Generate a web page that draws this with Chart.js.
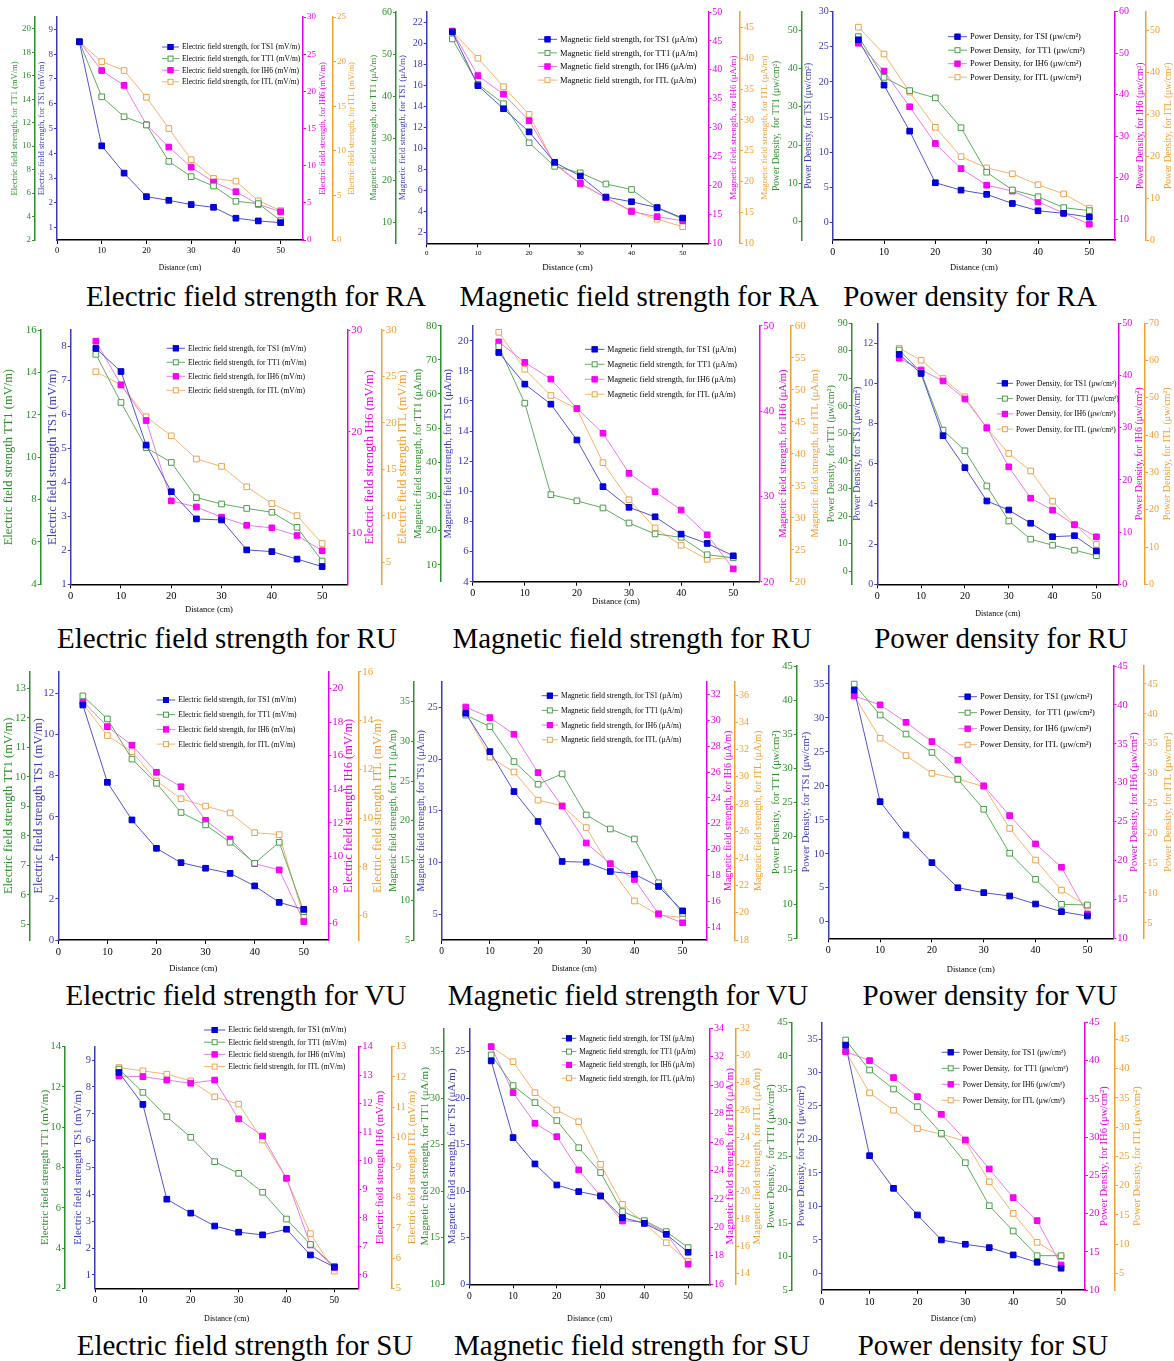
<!DOCTYPE html>
<html>
<head>
<meta charset="utf-8">
<title>Field strength and power density vs distance</title>
<script src="https://cdn.jsdelivr.net/npm/chart.js@4.4.1/dist/chart.umd.min.js"></script>
<style>
  body { margin: 0; width: 1174px; height: 1361px; position: relative; overflow: hidden; background: #fff; font-family: 'Liberation Serif', 'Times New Roman', serif; }
  canvas { position: absolute; }
  .cap { position: absolute; width: 500px; text-align: center; font-size: 29px; line-height: 32px; color: #000; white-space: nowrap; }
</style>
</head>
<body>
<script>
// distance from the source (cm)
const distance = [5, 10, 15, 20, 25, 30, 35, 40, 45, 50];
const xTicks = [0, 10, 20, 30, 40, 50];

// ---- RA ----
const efRA_TS1 = [8.5, 4.3, 3.2, 2.25, 2.1, 1.93, 1.82, 1.38, 1.27, 1.2];
const efRA_TT1 = [18.9, 14.2, 12.5, 11.8, 8.7, 7.4, 6.6, 5.3, 5.1, 3.65];
const efRA_IH6 = [26.7, 22.8, 20.8, 15.5, 12.5, 9.8, 7.8, 6.5, 4.8, 3.8];
const efRA_ITL = [22.2, 20.0, 19.0, 16.0, 12.5, 9.0, 6.9, 6.6, 4.4, 3.3];

const mfRA_TS1 = [21.1, 16.0, 13.8, 11.6, 8.7, 7.4, 5.4, 4.95, 4.4, 3.4];
const mfRA_TT1 = [53.6, 42.8, 38.2, 28.9, 23.3, 21.75, 19.1, 17.8, 13.4, 10.8];
const mfRA_IH6 = [46.7, 39.0, 35.8, 31.2, 23.8, 20.35, 17.9, 15.5, 14.6, 13.9];
const mfRA_ITL = [44.35, 40.0, 35.4, 30.9, 22.8, 19.6, 17.4, 15.3, 13.9, 12.7];

const pdRA_TS1 = [26.0, 19.55, 13.0, 5.65, 4.6, 4.0, 2.7, 1.66, 1.3, 0.76];
const pdRA_TT1 = [48.3, 37.65, 34.2, 32.3, 24.5, 12.9, 8.26, 6.5, 3.65, 2.87];
const pdRA_IH6 = [52.4, 45.7, 37.1, 28.25, 22.2, 18.2, 16.8, 14.2, 11.5, 8.8];
const pdRA_ITL = [50.8, 44.4, 35.3, 26.9, 19.9, 17.2, 15.8, 13.2, 11.0, 7.6];

// ---- RU ----
const efRU_TS1 = [7.93, 7.25, 5.09, 3.72, 2.92, 2.89, 2.01, 1.96, 1.74, 1.52];
const efRU_TT1 = [14.85, 12.58, 10.45, 9.75, 8.09, 7.79, 7.58, 7.4, 6.69, 5.1];
const efRU_IH6 = [28.9, 24.6, 21.1, 13.2, 12.6, 11.6, 10.8, 10.55, 9.8, 8.3];
const efRU_ITL = [25.5, 24.1, 20.65, 18.6, 16.1, 15.3, 13.1, 11.3, 10.0, 7.0];

const mfRU_TS1 = [19.22, 17.12, 15.79, 13.41, 10.31, 8.94, 8.31, 7.16, 6.54, 5.72];
const mfRU_TT1 = [73.9, 57.3, 30.5, 28.7, 26.6, 22.2, 19.0, 18.0, 12.9, 12.0];
const mfRU_IH6 = [48.1, 45.7, 43.75, 40.3, 37.4, 32.7, 30.55, 28.4, 25.5, 21.5];
const mfRU_ITL = [58.97, 53.2, 49.1, 47.0, 38.6, 32.8, 28.4, 25.7, 23.5, 23.8];

const pdRU_TS1 = [11.45, 10.5, 7.4, 5.81, 4.15, 3.7, 3.04, 2.37, 2.42, 1.66];
const pdRU_TT1 = [80.3, 72.2, 51.2, 43.7, 30.9, 18.2, 11.6, 9.4, 7.6, 5.6];
const pdRU_IH6 = [43.3, 41.06, 38.95, 35.5, 30.0, 22.5, 16.5, 14.2, 11.4, 9.1];
const pdRU_ITL = [63.3, 60.1, 55.2, 50.3, 41.8, 35.1, 30.4, 22.3, 16.1, 10.7];

// ---- VU ----
const efVU_TS1 = [11.43, 7.67, 5.84, 4.46, 3.76, 3.49, 3.24, 2.63, 1.83, 1.49];
const efVU_TT1 = [12.74, 11.96, 10.6, 9.78, 8.79, 8.37, 7.78, 7.07, 7.78, 5.43];
const efVU_IH6 = [19.24, 17.72, 16.62, 15.0, 14.14, 12.14, 11.02, 9.55, 9.18, 6.1];
const efVU_ITL = [14.69, 13.38, 12.72, 11.52, 10.79, 10.49, 10.21, 9.4, 9.32, 5.92];

const mfVU_TS1 = [24.45, 20.74, 16.87, 13.97, 10.1, 10.03, 9.13, 8.87, 7.68, 5.32];
const mfVU_TT1 = [33.3, 31.85, 27.45, 24.6, 25.9, 20.73, 18.97, 17.71, 12.2, 8.35];
const mfVU_IH6 = [31.04, 30.22, 28.93, 25.96, 23.37, 20.51, 18.91, 17.69, 15.03, 14.33];
const mfVU_ITL = [34.73, 31.45, 30.36, 28.29, 27.87, 26.27, 23.3, 20.87, 19.84, 19.65];

const pdVU_TS1 = [34.1, 17.67, 12.76, 8.69, 5.0, 4.27, 3.78, 2.6, 1.47, 0.83];
const pdVU_TT1 = [42.35, 37.8, 35.0, 32.3, 28.35, 23.95, 17.5, 13.66, 9.99, 9.9];
const pdVU_IH6 = [41.15, 40.0, 37.76, 35.28, 32.9, 29.6, 25.77, 22.13, 19.13, 13.13];
const pdVU_ITL = [42.99, 35.9, 32.99, 30.03, 29.08, 27.8, 20.8, 15.5, 10.47, 7.8];

// ---- SU ----
const efSU_TS1 = [8.54, 7.35, 3.82, 3.3, 2.82, 2.59, 2.49, 2.7, 1.74, 1.29];
const efSU_TT1 = [12.89, 11.73, 10.52, 9.5, 8.29, 7.71, 6.77, 5.44, 4.18, 3.08];
const efSU_IH6 = [12.97, 12.95, 12.83, 12.72, 12.83, 11.47, 10.87, 9.39, 7.05, 6.26];
const efSU_ITL = [12.31, 12.2, 12.09, 11.87, 11.34, 11.1, 9.91, 8.63, 6.81, 5.57];

const mfSU_TS1 = [24.0, 15.76, 12.93, 10.67, 9.96, 9.49, 7.16, 6.55, 5.37, 3.44];
const mfSU_TT1 = [34.64, 31.35, 29.52, 27.59, 24.68, 22.0, 17.81, 16.84, 15.66, 13.94];
const mfSU_IH6 = [32.71, 29.48, 27.32, 26.38, 24.04, 22.21, 20.45, 20.41, 19.59, 17.41];
const mfSU_ITL = [30.65, 29.55, 27.27, 26.0, 25.14, 22.01, 19.07, 17.67, 16.25, 14.9];

const pdSU_TS1 = [34.1, 17.57, 12.69, 8.71, 4.98, 4.33, 3.83, 2.74, 1.64, 0.75];
const pdSU_TT1 = [42.35, 37.87, 35.03, 32.39, 28.41, 24.02, 17.6, 13.81, 10.13, 10.13];
const pdSU_IH6 = [41.17, 39.99, 37.77, 35.28, 32.97, 29.62, 25.82, 22.07, 19.07, 13.27];
const pdSU_ITL = [42.94, 35.83, 32.87, 29.74, 28.78, 27.58, 20.64, 15.24, 10.29, 7.84];

// tick labels of the four y axes (TT1, TS1, IH6, ITL)
const efRA_tTT1 = [2, 4, 6, 8, 10, 12, 14, 16, 18, 20];
const efRA_tTS1 = [1, 2, 3, 4, 5, 6, 7, 8, 9];
const efRA_tIH6 = [0, 5, 10, 15, 20, 25, 30];
const efRA_tITL = [0, 5, 10, 15, 20, 25];
const mfRA_tTT1 = [10, 20, 30, 40, 50, 60];
const mfRA_tTS1 = [2, 4, 6, 8, 10, 12, 14, 16, 18, 20, 22];
const mfRA_tIH6 = [10, 15, 20, 25, 30, 35, 40, 45, 50];
const mfRA_tITL = [10, 15, 20, 25, 30, 35, 40, 45];
const pdRA_tTT1 = [0, 10, 20, 30, 40, 50];
const pdRA_tTS1 = [0, 5, 10, 15, 20, 25, 30];
const pdRA_tIH6 = [10, 20, 30, 40, 50, 60];
const pdRA_tITL = [0, 10, 20, 30, 40, 50];

const efRU_tTT1 = [4, 6, 8, 10, 12, 14, 16];
const efRU_tTS1 = [1, 2, 3, 4, 5, 6, 7, 8];
const efRU_tIH6 = [10, 20, 30];
const efRU_tITL = [5, 10, 15, 20, 25, 30];
const mfRU_tTT1 = [10, 20, 30, 40, 50, 60, 70, 80];
const mfRU_tTS1 = [4, 6, 8, 10, 12, 14, 16, 18, 20];
const mfRU_tIH6 = [20, 30, 40, 50];
const mfRU_tITL = [20, 25, 30, 35, 40, 45, 50, 55, 60];
const pdRU_tTT1 = [0, 10, 20, 30, 40, 50, 60, 70, 80, 90];
const pdRU_tTS1 = [0, 2, 4, 6, 8, 10, 12];
const pdRU_tIH6 = [0, 10, 20, 30, 40, 50];
const pdRU_tITL = [0, 10, 20, 30, 40, 50, 60, 70];

const efVU_tTT1 = [5, 6, 7, 8, 9, 10, 11, 12, 13];
const efVU_tTS1 = [0, 2, 4, 6, 8, 10, 12];
const efVU_tIH6 = [6, 8, 10, 12, 14, 16, 18, 20];
const efVU_tITL = [6, 8, 10, 12, 14, 16];
const mfVU_tTT1 = [5, 10, 15, 20, 25, 30, 35];
const mfVU_tTS1 = [5, 10, 15, 20, 25];
const mfVU_tIH6 = [14, 16, 18, 20, 22, 24, 26, 28, 30, 32];
const mfVU_tITL = [18, 20, 22, 24, 26, 28, 30, 32, 34, 36];
const pdVU_tTT1 = [5, 10, 15, 20, 25, 30, 35, 40, 45];
const pdVU_tTS1 = [0, 5, 10, 15, 20, 25, 30, 35];
const pdVU_tIH6 = [10, 15, 20, 25, 30, 35, 40, 45];
const pdVU_tITL = [5, 10, 15, 20, 25, 30, 35, 40, 45];

const efSU_tTT1 = [2, 4, 6, 8, 10, 12, 14];
const efSU_tTS1 = [1, 2, 3, 4, 5, 6, 7, 8, 9];
const efSU_tIH6 = [6, 7, 8, 9, 10, 11, 12, 13, 14];
const efSU_tITL = [5, 6, 7, 8, 9, 10, 11, 12, 13];
const mfSU_tTT1 = [10, 15, 20, 25, 30, 35];
const mfSU_tTS1 = [0, 5, 10, 15, 20, 25];
const mfSU_tIH6 = [16, 18, 20, 22, 24, 26, 28, 30, 32, 34];
const mfSU_tITL = [14, 16, 18, 20, 22, 24, 26, 28, 30, 32];
const pdSU_tTT1 = [5, 10, 15, 20, 25, 30, 35, 40, 45];
const pdSU_tTS1 = [0, 5, 10, 15, 20, 25, 30, 35];
const pdSU_tIH6 = [10, 15, 20, 25, 30, 35, 40, 45];
const pdSU_tITL = [5, 10, 15, 20, 25, 30, 35, 40, 45];

// axis titles (TT1, TS1, IH6, ITL) and legend labels (TS1, TT1, IH6, ITL)
const efTitlesFor = ['Electric field strength, for TT1 (mV/m)', 'Electric field strength, for TS1 (mV/m)', 'Electric field strength, for IH6 (mV/m)', 'Electric field strength, for ITL (mV/m)'];
const efTitles = ['Electric field strength TT1 (mV/m)', 'Electric field strength TS1 (mV/m)', 'Electric field strength IH6 (mV/m)', 'Electric field strength ITL (mV/m)'];
const efLegend = ['Electric field strength, for TS1 (mV/m)', 'Electric field strength, for TT1 (mV/m)', 'Electric field strength, for IH6 (mV/m)', 'Electric field strength, for ITL (mV/m)'];
const mfTitles = ['Magnetic field strength, for TT1 (μA/m)', 'Magnetic field strength, for TS1 (μA/m)', 'Magnetic field strength, for IH6 (μA/m)', 'Magnetic field strength, for ITL (μA/m)'];
const mfLegend = ['Magnetic field strength, for TS1 (μA/m)', 'Magnetic field strength, for TT1 (μA/m)', 'Magnetic field strength, for IH6 (μA/m)', 'Magnetic field strength, for ITL (μA/m)'];
const mfTitlesSI = ['Magnetic field strength, for TT1 (μA/m)', 'Magnetic field strength, for TSI (μA/m)', 'Magnetic field strength, for IH6 (μA/m)', 'Magnetic field strength, for ITL (μA/m)'];
const mfLegendSI = ['Magnetic field strength, for TSI (μA/m)', 'Magnetic field strength, for TT1 (μA/m)', 'Magnetic field strength, for IH6 (μA/m)', 'Magnetic field strength, for ITL (μA/m)'];
const pdTitlesSI = ['Power Density,  for TT1 (μw/cm²)', 'Power Density, for TSI (μw/cm²)', 'Power Density, for IH6 (μw/cm²)', 'Power Density, for ITL (μw/cm²)'];
const pdLegendSI = ['Power Density, for TSI (μw/cm²)', 'Power Density,  for TT1 (μw/cm²)', 'Power Density, for IH6 (μw/cm²)', 'Power Density, for ITL (μw/cm²)'];
const pdTitles = ['Power Density,  for TT1 (μw/cm²)', 'Power Density, for TS1 (μw/cm²)', 'Power Density, for IH6 (μw/cm²)', 'Power Density, for ITL (μw/cm²)'];
const pdLegend = ['Power Density, for TS1 (μw/cm²)', 'Power Density,  for TT1 (μw/cm²)', 'Power Density, for IH6 (μw/cm²)', 'Power Density, for ITL (μw/cm²)'];

const SERIF = "'Liberation Serif', 'Times New Roman', serif";
Chart.defaults.font.family = SERIF;

// axis colours: g = TT1, b = TS1, m = IH6, o = ITL
const AXIS = { g: '#2f8c2f', b: '#3b3bb5', m: '#e600e6', o: '#eea033' };
const SERIES = [
  { axis: 'b', line: '#5454cc', fill: '#0000ee', edge: '#0000bb' },
  { axis: 'g', line: '#63a963', fill: '#ffffff', edge: '#4c9a4c' },
  { axis: 'm', line: '#e77be7', fill: '#ff00ff', edge: '#ee00ee' },
  { axis: 'o', line: '#f2b570', fill: '#ffffff', edge: '#eaa24e' }
];

// page layout of each panel (pixel positions measured on the reference)
const panels = [
  { caption: 'Electric field strength for RA', capX: 256, capY: 296,
    ax: { g: 35, b: 57, m: 303, o: 333 }, tx: { g: 15, b: 41.7, m: 322.7, o: 351.7 },
    top: 17, bot: 240, xTitleY: 268,
    rng: { g: [2, 21], b: [0.5, 9.5], m: [0, 30], o: [0, 25] },
    fs: { tick: 9, title: 8.5, leg: 7.5, xTick: 8.5, xTitle: 7.5 },
    leg: { x: 162, tx: 182, y: 47, dy: 11.6 },
    data: [efRA_TS1, efRA_TT1, efRA_IH6, efRA_ITL],
    ticks: { g: efRA_tTT1, b: efRA_tTS1, m: efRA_tIH6, o: efRA_tITL },
    titles: efTitlesFor, labels: efLegend },
  { caption: 'Magnetic field strength for RA', capX: 639, capY: 296,
    ax: { g: 396, b: 426.7, m: 708.3, o: 740 }, tx: { g: 373.3, b: 402.7, m: 733.3, o: 765 },
    top: 12, bot: 243.3, xTitleY: 268,
    rng: { g: [5, 60], b: [1, 23], m: [10, 50], o: [10, 47.5] },
    fs: { tick: 10, title: 9, leg: 8.5, xTick: 7, xTitle: 9 },
    leg: { x: 538, tx: 560, y: 39.3, dy: 13.6 },
    data: [mfRA_TS1, mfRA_TT1, mfRA_IH6, mfRA_ITL],
    ticks: { g: mfRA_tTT1, b: mfRA_tTS1, m: mfRA_tIH6, o: mfRA_tITL },
    titles: mfTitles, labels: mfLegend },
  { caption: 'Power density for RA', capX: 970, capY: 296,
    ax: { g: 801.7, b: 832.7, m: 1115, o: 1146 }, tx: { g: 776.7, b: 808, m: 1140, o: 1168.3 },
    top: 11.7, bot: 240, xTitleY: 268,
    rng: { g: [-4.8, 54.8], b: [-2.5, 30], m: [5, 60], o: [0, 54.5] },
    fs: { tick: 10, title: 9.5, leg: 8.4, xTick: 10, xTitle: 8.5 },
    leg: { x: 948, tx: 970, y: 36.7, dy: 13.5 },
    data: [pdRA_TS1, pdRA_TT1, pdRA_IH6, pdRA_ITL],
    ticks: { g: pdRA_tTT1, b: pdRA_tTS1, m: pdRA_tIH6, o: pdRA_tITL },
    titles: pdTitlesSI, labels: pdLegendSI },

  { caption: 'Electric field strength for RU', capX: 227, capY: 638,
    ax: { g: 40.7, b: 70.7, m: 347.3, o: 381.7 }, tx: { g: 8.3, b: 52.5, m: 369.5, o: 403 },
    top: 330, bot: 584.3, xTitleY: 610,
    rng: { g: [4, 16], b: [1, 8.47], m: [5, 30], o: [2.6, 30] },
    fs: { tick: 11, title: 12.5, leg: 7.5, xTick: 10.5, xTitle: 8.5 },
    leg: { x: 166.7, tx: 188, y: 348.3, dy: 14 },
    data: [efRU_TS1, efRU_TT1, efRU_IH6, efRU_ITL],
    ticks: { g: efRU_tTT1, b: efRU_tTS1, m: efRU_tIH6, o: efRU_tITL },
    titles: efTitles, labels: efLegend },
  { caption: 'Magnetic field strength for RU', capX: 632, capY: 638,
    ax: { g: 441, b: 472.7, m: 759.3, o: 790.7 }, tx: { g: 418.3, b: 448.3, m: 783.5, o: 815 },
    top: 325.7, bot: 581.7, xTitleY: 602,
    rng: { g: [5, 80], b: [4, 21], m: [20, 50], o: [20, 60] },
    fs: { tick: 11, title: 10.5, leg: 8, xTick: 10, xTitle: 8.5 },
    leg: { x: 585, tx: 607.3, y: 349.3, dy: 15 },
    data: [mfRU_TS1, mfRU_TT1, mfRU_IH6, mfRU_ITL],
    ticks: { g: mfRU_tTT1, b: mfRU_tTS1, m: mfRU_tIH6, o: mfRU_tITL },
    titles: mfTitles, labels: mfLegend },
  { caption: 'Power density for RU', capX: 1001, capY: 638,
    ax: { g: 851.7, b: 877.3, m: 1118.3, o: 1145 }, tx: { g: 831.7, b: 857.5, m: 1139, o: 1167 },
    top: 323.3, bot: 584.3, xTitleY: 614.3,
    rng: { g: [-4.8, 90], b: [0, 13], m: [0, 50], o: [0, 70] },
    fs: { tick: 10, title: 10, leg: 7.5, xTick: 10, xTitle: 8 },
    leg: { x: 996.7, tx: 1016, y: 383.3, dy: 15.3 },
    data: [pdRU_TS1, pdRU_TT1, pdRU_IH6, pdRU_ITL],
    ticks: { g: pdRU_tTT1, b: pdRU_tTS1, m: pdRU_tIH6, o: pdRU_tITL },
    titles: pdTitles, labels: pdLegend },

  { caption: 'Electric field strength for VU', capX: 236, capY: 995,
    ax: { g: 30, b: 58.3, m: 328.3, o: 358.3 }, tx: { g: 8.3, b: 38.3, m: 349, o: 377.5 },
    top: 671.7, bot: 940, xTitleY: 969,
    rng: { g: [4.47, 13.56], b: [0, 13.05], m: [5, 21], o: [5, 16] },
    fs: { tick: 11, title: 12.5, leg: 7.5, xTick: 10.5, xTitle: 8.5 },
    leg: { x: 156.7, tx: 178.3, y: 700, dy: 14.7 },
    data: [efVU_TS1, efVU_TT1, efVU_IH6, efVU_ITL],
    ticks: { g: efVU_tTT1, b: efVU_tTS1, m: efVU_tIH6, o: efVU_tITL },
    titles: efTitles, labels: efLegend },
  { caption: 'Magnetic field strength for VU', capX: 628, capY: 995,
    ax: { g: 414, b: 441.7, m: 706.7, o: 735 }, tx: { g: 393.3, b: 421.7, m: 728.5, o: 758.5 },
    top: 681.7, bot: 940, xTitleY: 969,
    rng: { g: [5, 37.5], b: [2.5, 27.5], m: [13, 33], o: [18, 37] },
    fs: { tick: 10, title: 10, leg: 7.5, xTick: 9.5, xTitle: 8 },
    leg: { x: 541.7, tx: 561, y: 695.7, dy: 14.7 },
    data: [mfVU_TS1, mfVU_TT1, mfVU_IH6, mfVU_ITL],
    ticks: { g: mfVU_tTT1, b: mfVU_tTS1, m: mfVU_tIH6, o: mfVU_tITL },
    titles: mfTitles, labels: mfLegend },
  { caption: 'Power density for VU', capX: 990, capY: 995,
    ax: { g: 796.7, b: 828.3, m: 1113.3, o: 1143.3 }, tx: { g: 776.7, b: 806.7, m: 1134, o: 1168.3 },
    top: 666, bot: 938.3, xTitleY: 970,
    rng: { g: [5, 45], b: [-2.45, 37.65], m: [10, 45], o: [2.4, 48] },
    fs: { tick: 10.5, title: 10.5, leg: 8.4, xTick: 10, xTitle: 8.5 },
    leg: { x: 958.3, tx: 980, y: 696.7, dy: 16 },
    data: [pdVU_TS1, pdVU_TT1, pdVU_IH6, pdVU_ITL],
    ticks: { g: pdVU_tTT1, b: pdVU_tTS1, m: pdVU_tIH6, o: pdVU_tITL },
    titles: pdTitles, labels: pdLegend },

  { caption: 'Electric field strength for SU', capX: 245, capY: 1345,
    ax: { g: 65, b: 95, m: 358.3, o: 391.7 }, tx: { g: 45, b: 78.3, m: 380.5, o: 412 },
    top: 1046.7, bot: 1288.3, xTitleY: 1319,
    rng: { g: [2, 14], b: [0.5, 9.5], m: [5.53, 14], o: [5, 13] },
    fs: { tick: 10.5, title: 11, leg: 7.5, xTick: 9.5, xTitle: 8 },
    leg: { x: 204, tx: 228.3, y: 1030, dy: 12.2 },
    data: [efSU_TS1, efSU_TT1, efSU_IH6, efSU_ITL],
    ticks: { g: efSU_tTT1, b: efSU_tTS1, m: efSU_tIH6, o: efSU_tITL },
    titles: efTitles, labels: efLegend },
  { caption: 'Magnetic field strength for SU', capX: 632, capY: 1345,
    ax: { g: 444, b: 469.3, m: 710, o: 736 }, tx: { g: 425, b: 451.7, m: 730.5, o: 757 },
    top: 1028.3, bot: 1284.3, xTitleY: 1319,
    rng: { g: [10, 37.5], b: [0, 27.5], m: [16, 34], o: [13.2, 32] },
    fs: { tick: 10, title: 11, leg: 7.2, xTick: 9.5, xTitle: 8 },
    leg: { x: 561.7, tx: 579.3, y: 1038.3, dy: 13.3 },
    data: [mfSU_TS1, mfSU_TT1, mfSU_IH6, mfSU_ITL],
    ticks: { g: mfSU_tTT1, b: mfSU_tTS1, m: mfSU_tIH6, o: mfSU_tITL },
    titles: mfTitlesSI, labels: mfLegendSI },
  { caption: 'Power density for SU', capX: 983, capY: 1345,
    ax: { g: 791.7, b: 821.7, m: 1085, o: 1115 }, tx: { g: 771.7, b: 801.7, m: 1104, o: 1137 },
    top: 1022.3, bot: 1290, xTitleY: 1319,
    rng: { g: [5, 45], b: [-2.5, 37.5], m: [10, 45], o: [2.15, 47.9] },
    fs: { tick: 10.5, title: 10.5, leg: 7.7, xTick: 10, xTitle: 8 },
    leg: { x: 941.7, tx: 962.7, y: 1052.3, dy: 16 },
    data: [pdSU_TS1, pdSU_TT1, pdSU_IH6, pdSU_ITL],
    ticks: { g: pdSU_tTT1, b: pdSU_tTS1, m: pdSU_tIH6, o: pdSU_tITL },
    titles: pdTitles, labels: pdLegend }
];

// rotated axis titles (all read bottom to top) and the in-plot legend
function decorPlugin(p, left, topEdge) {
  return {
    id: 'decor',
    afterDraw(chart) {
      const ctx = chart.ctx;
      const ca = chart.chartArea;
      const midY = (ca.top + ca.bottom) / 2;
      ctx.save();
      ctx.textAlign = 'center';
      ctx.textBaseline = 'middle';
      ctx.font = p.fs.title + 'px ' + SERIF;
      ['g', 'b', 'm', 'o'].forEach((k, i) => {
        ctx.save();
        ctx.translate(p.tx[k] - left, midY);
        ctx.rotate(-Math.PI / 2);
        ctx.fillStyle = AXIS[k];
        ctx.fillText(p.titles[i], 0, 0);
        ctx.restore();
      });

      ctx.font = p.fs.leg + 'px ' + SERIF;
      ctx.textAlign = 'left';
      chart.data.datasets.forEach((ds, i) => {
        const y = p.leg.y - topEdge + i * p.leg.dy;
        const x0 = p.leg.x - left;
        const x1 = p.leg.tx - left - 3;
        const xm = (x0 + x1) / 2;
        ctx.strokeStyle = ds.borderColor;
        ctx.lineWidth = 1;
        ctx.beginPath();
        ctx.moveTo(x0, y);
        ctx.lineTo(x1, y);
        ctx.stroke();
        ctx.fillStyle = ds.pointBackgroundColor;
        ctx.strokeStyle = ds.pointBorderColor;
        ctx.fillRect(xm - 3, y - 3, 6, 6);
        ctx.strokeRect(xm - 2.5, y - 2.5, 5, 5);
        ctx.fillStyle = '#000';
        ctx.fillText(ds.label, p.leg.tx - left, y + 0.5);
      });
      ctx.restore();
    }
  };
}

function yAxis(key, p, width, weight) {
  const color = AXIS[key];
  const tickVals = p.ticks[key];
  return {
    type: 'linear',
    position: (key === 'g' || key === 'b') ? 'left' : 'right',
    weight: weight,
    min: p.rng[key][0],
    max: p.rng[key][1],
    afterBuildTicks: s => { s.ticks = tickVals.map(v => ({ value: v })); },
    afterFit: s => { s.width = width; },
    grid: { drawOnChartArea: false, drawTicks: true, tickLength: 3, color: color, tickWidth: 1 },
    border: { display: true, color: color, width: 1.5 },
    ticks: { color: color, font: { size: p.fs.tick }, padding: 1, autoSkip: false },
    title: { display: false }
  };
}

function drawPanel(p) {
  const left = Math.max(0, Math.round(p.tx.g - 8));
  const right = Math.min(1174, Math.round(p.tx.o + 8));
  const topEdge = Math.round(Math.min(p.top, p.leg.y - p.leg.dy / 2) - 8);
  const bottom = Math.round(p.xTitleY + 8);
  const W = right - left;
  const H = bottom - topEdge;

  const canvas = document.createElement('canvas');
  canvas.width = W;
  canvas.height = H;
  canvas.style.left = left + 'px';
  canvas.style.top = topEdge + 'px';
  canvas.style.width = W + 'px';
  canvas.style.height = H + 'px';
  document.body.appendChild(canvas);

  const xH = bottom - p.bot;
  const xTitlePad = Math.max(0, bottom - p.xTitleY - p.fs.xTitle * 0.6);

  const datasets = p.data.map((vals, i) => ({
    label: p.labels[i],
    data: distance.map((d, j) => ({ x: d, y: vals[j] })),
    yAxisID: SERIES[i].axis,
    borderColor: SERIES[i].line,
    backgroundColor: SERIES[i].fill,
    pointBackgroundColor: SERIES[i].fill,
    pointBorderColor: SERIES[i].edge,
    pointStyle: 'rect',
    pointRadius: 4,
    pointBorderWidth: 1,
    borderWidth: 1,
    tension: 0
  }));

  new Chart(canvas, {
    type: 'line',
    data: { datasets: datasets },
    options: {
      responsive: false,
      animation: false,
      devicePixelRatio: 1,
      layout: { padding: { left: 0, right: 0, top: p.top - topEdge, bottom: 0 } },
      plugins: { legend: { display: false }, tooltip: { enabled: false } },
      scales: {
        x: {
          type: 'linear',
          min: 0,
          max: 55,
          afterBuildTicks: s => { s.ticks = xTicks.map(v => ({ value: v })); },
          afterFit: s => { s.height = xH; },
          grid: { drawOnChartArea: false, tickLength: 4, color: '#000' },
          border: { color: '#000', width: 1.5 },
          ticks: { color: '#000', font: { size: p.fs.xTick }, padding: 2, autoSkip: false, maxRotation: 0 },
          title: { display: true, text: 'Distance (cm)', color: '#000', font: { size: p.fs.xTitle }, padding: { top: 0, bottom: xTitlePad } }
        },
        g: yAxis('g', p, p.ax.g - left, 1),
        b: yAxis('b', p, p.ax.b - p.ax.g, 0),
        m: yAxis('m', p, p.ax.o - p.ax.m, 0),
        o: yAxis('o', p, right - p.ax.o, 1)
      }
    },
    plugins: [decorPlugin(p, left, topEdge)]
  });

  const cap = document.createElement('div');
  cap.className = 'cap';
  cap.textContent = p.caption;
  cap.style.left = (p.capX - 250) + 'px';
  cap.style.top = (p.capY - 16) + 'px';
  document.body.appendChild(cap);
}

panels.forEach(drawPanel);
</script>
</body>
</html>
